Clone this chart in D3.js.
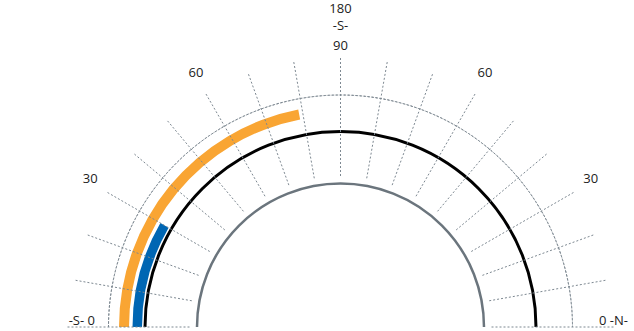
<!DOCTYPE html>
<head>
  <meta charset="utf-8">
  <style>
  body { margin: 0; background: #fff; }
  * { font-family: "Open Sans", sans-serif; }
  .grid line, .grid path {
    fill: none;
    stroke: #7d8891;
    stroke-width: 1;
    stroke-dasharray: 2,2;
  }
  .lbl { font-size: 13px; fill: #222; }
  </style>
  <title>Gauge</title>
</head>
<body>
  <svg width="634" height="331"></svg>
  <script src="https://d3js.org/d3.v7.min.js"></script>
  <script>
  // data
  var gridAngles = [0, 10, 20, 30, 40, 50, 60, 70, 80, 90, 100, 110, 120, 130, 140, 150, 160, 170, 180];
  var tickAngles = [30, 60, 90, 120, 150];
  var tickLabels = ["30", "60", "90", "60", "30"];
  var seriesNames = ["orange", "blue"];
  var seriesStart = [0, 0];
  var seriesEnd = [79, 30];
  var seriesColors = ["#f9a533", "#0066b3"];

  var svg = d3.select("svg"),
      cx = 340.5,
      cy = 327;

  // angle on the half dial: 0 at left, 180 at right
  var angle = d3.scaleLinear().domain([0, 180]).range([-Math.PI / 2, Math.PI / 2]);

  function pt(a, r) {
    var t = angle(a);
    return [cx + r * Math.sin(t), cy - r * Math.cos(t)];
  }

  var g = svg.append("g").attr("transform", "translate(" + cx + "," + cy + ")");
  var grid = svg.append("g").attr("class", "grid");

  grid.selectAll("line")
    .data(gridAngles)
    .enter().append("line")
      .attr("x1", function(d) { return pt(d, 151)[0]; })
      .attr("y1", function(d) { return pt(d, 151)[1]; })
      .attr("x2", function(d) { return pt(d, (d === 0 || d === 180) ? 273 : 270)[0]; })
      .attr("y2", function(d) { return pt(d, (d === 0 || d === 180) ? 273 : 270)[1]; });

  g.append("path")
    .style("fill", "none")
    .style("stroke", "#7d8891")
    .style("stroke-dasharray", "2,2")
    .attr("d", d3.arc().innerRadius(232).outerRadius(232)
      .startAngle(angle(0)).endAngle(angle(180))());

  // inner gray ring
  g.append("path")
    .attr("fill", "none")
    .attr("stroke", "#6b757d")
    .attr("stroke-width", 2.5)
    .attr("d", d3.arc().innerRadius(143.5).outerRadius(143.5)
      .startAngle(angle(0)).endAngle(angle(180))());

  // black ring
  g.append("path")
    .attr("fill", "none")
    .attr("stroke", "#000")
    .attr("stroke-width", 3)
    .attr("d", d3.arc().innerRadius(195.5).outerRadius(195.5)
      .startAngle(angle(0)).endAngle(angle(180))());

  var bandR = [[211.5, 221.5], [198.5, 208]];
  g.selectAll(".band")
    .data(seriesNames)
    .enter().append("path")
      .attr("class", "band")
      .attr("fill", function(d, i) { return seriesColors[i]; })
      .attr("d", function(d, i) {
        return d3.arc().innerRadius(bandR[i][0]).outerRadius(bandR[i][1])
          .startAngle(angle(seriesStart[i])).endAngle(angle(seriesEnd[i]))();
      });

  svg.selectAll(".tick")
    .data(tickAngles)
    .enter().append("text")
      .attr("class", "lbl")
      .attr("text-anchor", "middle")
      .attr("dominant-baseline", "central")
      .attr("x", function(d) { return pt(d, d === 90 ? 280 : 289)[0]; })
      .attr("y", function(d) { return pt(d, d === 90 ? 280 : 289)[1] - (d === 90 ? 2 : 5); })
      .text(function(d, i) { return tickLabels[i]; });

  svg.append("text").attr("class", "lbl").attr("text-anchor", "middle")
    .attr("x", cx).attr("y", 13).text("180");
  svg.append("text").attr("class", "lbl").attr("text-anchor", "middle")
    .attr("x", cx).attr("y", 30).text("-S-");
  svg.append("text").attr("class", "lbl").attr("text-anchor", "end")
    .attr("x", 95).attr("y", 325).text("-S- 0");
  svg.append("text").attr("class", "lbl").attr("text-anchor", "start")
    .attr("x", 599).attr("y", 325).text("0 -N-");
  </script>
</body>
